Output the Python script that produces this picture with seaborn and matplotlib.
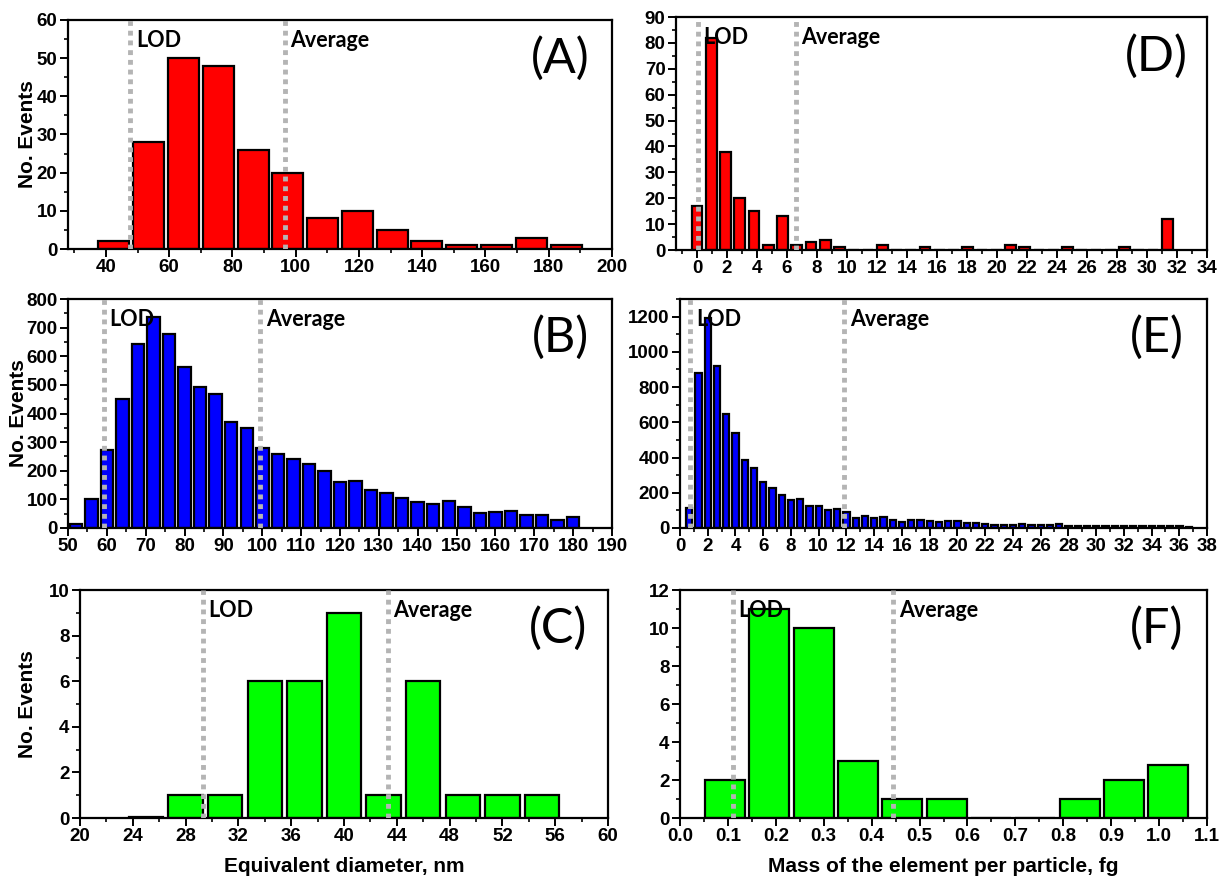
import numpy as np
import pandas as pd
import matplotlib
matplotlib.use("Agg")
import matplotlib.pyplot as plt
import seaborn as sns
from matplotlib.ticker import MultipleLocator, FormatStrFormatter
from matplotlib.transforms import blended_transform_factory

sns.set_style("ticks")
plt.rcParams['font.family'] = ['Liberation Sans', 'DejaVu Sans']
plt.rcParams['text.color'] = 'black'
plt.rcParams['axes.labelcolor'] = 'black'

# (A) diameter, red
a_centers = [42.5, 53.5, 64.5, 75.5, 86.5, 97.5, 108.5, 119.5, 130.5, 141.5, 152.5, 163.5, 174.5, 185.5]
a_counts = [2, 28, 50, 48, 26, 20, 8, 10, 5, 2, 1, 1, 3, 1]
a_bin = 11
a_lod, a_avg = 47.7, 96.5

# (B) diameter, blue
b_centers = [52, 56, 60, 64, 68, 72, 76, 80, 84, 88, 92, 96, 100, 104, 108, 112, 116,
             120, 124, 128, 132, 136, 140, 144, 148, 152, 156, 160, 164, 168, 172, 176, 180]
b_counts = [13, 102, 271, 451, 643, 738, 678, 562, 492, 469, 370, 350, 280, 259, 240, 222, 199,
            160, 163, 133, 122, 105, 91, 84, 93, 72, 53, 57, 59, 47, 47, 29, 38]
b_bin = 4
b_lod, b_avg = 59.2, 99.5

# (C) diameter, green
c_centers = [25, 28, 31, 34, 37, 40, 43, 46, 49, 52, 55]
c_counts = [0.05, 1, 1, 6, 6, 9, 1, 6, 1, 1, 1]
c_bin = 3
c_lod, c_avg = 29.3, 43.3

# (D) mass, red
d_centers = [0.0, 0.95, 1.9, 2.85, 3.8, 4.75, 5.7, 6.65, 7.6, 8.55, 9.5,
             12.35, 15.2, 18.05, 20.9, 21.85, 24.7, 28.5, 31.35]
d_counts = [17, 82, 38, 20, 15, 2, 13, 2, 3, 4, 1,
            2, 1, 1, 2, 1, 1, 1, 12]
d_bin = 0.95
d_lod, d_avg = 0.05, 6.6

# (E) mass, blue
e_centers = [0.67, 1.33, 2.0, 2.67, 3.33, 4.0, 4.67, 5.33, 6.0, 6.67, 7.33, 8.0, 8.67, 9.33,
             10.0, 10.67, 11.33, 12.0, 12.67, 13.33, 14.0, 14.67, 15.33, 16.0, 16.67, 17.33,
             18.0, 18.67, 19.33, 20.0, 20.67, 21.33, 22.0, 22.67, 23.33, 24.0, 24.67, 25.33,
             26.0, 26.67, 27.33, 28.0, 28.67, 29.33, 30.0, 30.67, 31.33, 32.0, 32.67, 33.33,
             34.0, 34.67, 35.33, 36.0, 36.67]
e_counts = [115, 880, 1190, 920, 650, 540, 385, 340, 260, 225, 190, 160, 166, 126,
            126, 104, 108, 92, 57, 66, 57, 61, 47, 34, 47, 44,
            42, 32, 42, 42, 28, 28, 23, 15, 15, 19, 25, 19,
            15, 15, 25, 13, 13, 12, 14, 12, 12, 10, 10, 10,
            11, 13, 10, 12, 5]
e_bin = 0.667
e_lod, e_avg = 0.75, 11.85

# (F) mass, green
f_centers = [0.094, 0.187, 0.279, 0.371, 0.464, 0.556, 0.648, 0.741, 0.833, 0.925, 1.018]
f_counts = [2, 11, 10, 3, 1, 1, 0, 0, 1, 2, 2.8]
f_bin = 0.0925
f_lod, f_avg = 0.11, 0.445

RED, BLUE, GREEN = "#ff0000", "#0000ff", "#00ff00"

fig = plt.figure(figsize=(12.2, 8.8), dpi=100)


def rect(l, t, r, b):
    return [l / 1220, 1 - b / 880, (r - l) / 1220, (b - t) / 880]


def panel(box, centers, counts, binw, shrink, color, xlim, xmaj, xmin, ylim, ymaj, ymin,
          lod, avg, letter, ylab_x=None, xlabel=None, xfmt=None):
    ax = fig.add_axes(rect(*box))
    df = pd.DataFrame({"center": centers, "count": counts})
    lo = centers[0] - binw / 2
    n = int(round((centers[-1] - centers[0]) / binw)) + 1
    edges = list(lo + binw * np.arange(n + 1))
    sns.histplot(data=df, x="center", weights="count", bins=edges, shrink=shrink, color=color,
                 edgecolor="black", linewidth=1.6, alpha=1, ax=ax, zorder=2)
    ax.set_xlim(*xlim)
    ax.set_ylim(*ylim)
    ax.xaxis.set_major_locator(MultipleLocator(xmaj))
    ax.xaxis.set_minor_locator(MultipleLocator(xmin))
    ax.yaxis.set_major_locator(MultipleLocator(ymaj))
    ax.yaxis.set_minor_locator(MultipleLocator(ymin))
    if xfmt:
        ax.xaxis.set_major_formatter(FormatStrFormatter(xfmt))
    ax.tick_params(which="major", direction="out", length=6, width=1.4,
                   labelsize=13.5, pad=1.5, labelcolor="black", color="black")
    ax.tick_params(which="minor", direction="out", length=3, width=1.2, color="black")
    for lab in ax.get_xticklabels() + ax.get_yticklabels():
        lab.set_fontweight("bold")
    for s in ax.spines.values():
        s.set_linewidth(1.6)
        s.set_color("black")
        s.set_visible(True)
    for v in (lod, avg):
        ax.axvline(v, color="#b4b4b4", lw=3.5, ls=(0, (1, 1)), zorder=3)
    tr = blended_transform_factory(ax.transData, ax.transAxes)
    for v, t in ((lod, "LOD"), (avg, "Average")):
        ax.annotate(t, xy=(v, 0.91), xycoords=tr, xytext=(4, 0), textcoords="offset points",
                    ha="left", va="center", fontsize=15.5, fontweight="bold",
                    family=["Lato", "DejaVu Sans"], zorder=4)
    ax.text(0.905, 0.83, letter, transform=ax.transAxes, ha="center", va="center",
            fontsize=35, family=["Lato", "DejaVu Sans"])
    if ylab_x is not None:
        # label x is the right edge of the rotated text
        ax.set_ylabel("No. Events", fontsize=15, fontweight="bold")
        ax.yaxis.set_label_coords((ylab_x - box[0]) / (box[2] - box[0]), 0.5)
    else:
        ax.set_ylabel("")
    if xlabel:
        ax.set_xlabel(xlabel, fontsize=15, fontweight="bold", labelpad=8)
    else:
        ax.set_xlabel("")
    return ax


panel((68, 20, 612, 249), a_centers, a_counts, a_bin, 0.89, RED,
      (28, 200), 20, 10, (0, 60), 10, 5, a_lod, a_avg, "(A)", ylab_x=37)
panel((68, 299, 612, 528), b_centers, b_counts, b_bin, 0.8, BLUE,
      (50, 190), 10, 5, (0, 800), 100, 50, b_lod, b_avg, "(B)", ylab_x=28)
panel((80, 590, 608, 818), c_centers, c_counts, c_bin, 0.87, GREEN,
      (20, 60), 4, 2, (0, 10), 2, 1, c_lod, c_avg, "(C)", ylab_x=37,
      xlabel="Equivalent diameter, nm")
panel((676, 17, 1207, 250), d_centers, d_counts, d_bin, 0.77, RED,
      (-1.4, 34), 2, 1, (0, 90), 10, 5, d_lod, d_avg, "(D)")
panel((680, 299, 1207, 528), e_centers, e_counts, e_bin, 0.68, BLUE,
      (0, 38), 2, 1, (0, 1300), 200, 100, e_lod, e_avg, "(E)")
panel((680, 590, 1207, 818), f_centers, f_counts, f_bin, 0.9, GREEN,
      (0, 1.1), 0.1, 0.05, (0, 12), 2, 1, f_lod, f_avg, "(F)",
      xlabel="Mass of the element per particle, fg", xfmt="%.1f")

fig.savefig("out.png", dpi=100)
